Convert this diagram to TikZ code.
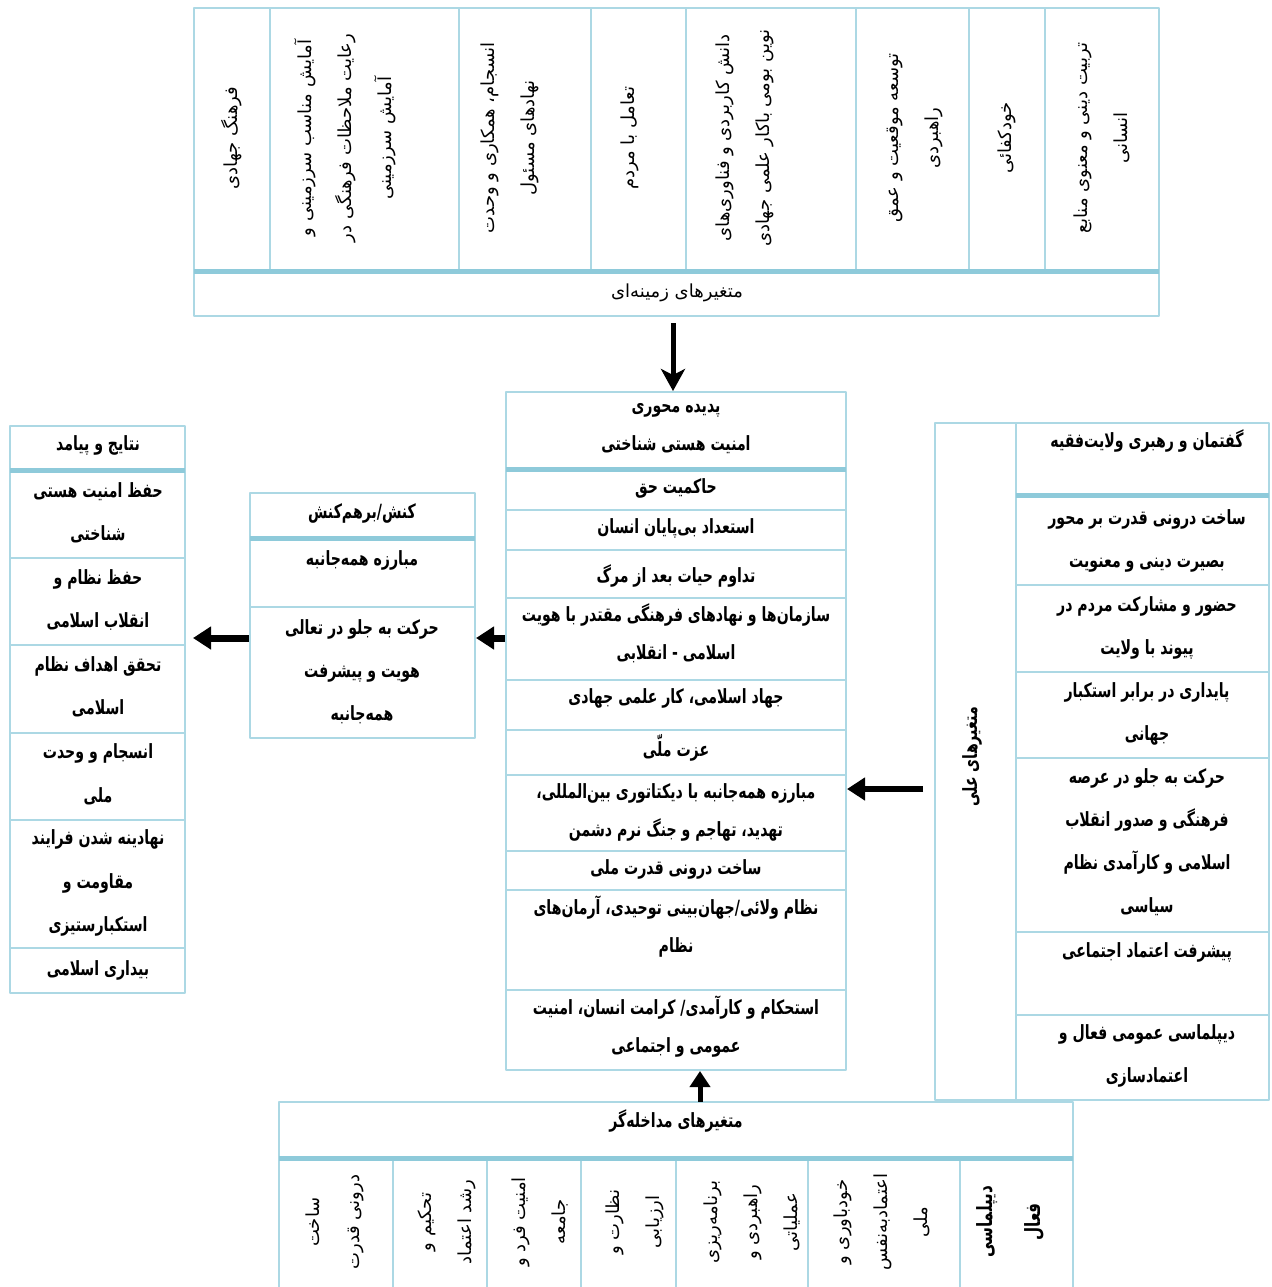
\documentclass[tikz,border=0pt]{standalone}
\usepackage{fontspec}
\newfontfamily\farsi[Script=Arabic]{DejaVu Sans}
\newfontfamily\farsib[Script=Arabic,FakeStretch=0.72]{DejaVu Sans}
\TeXXeTstate=1
\usetikzlibrary{arrows.meta,fit}
\definecolor{boxblue}{RGB}{172,216,228}
\definecolor{bandblue}{RGB}{142,202,218}
\newcommand\fa[1]{\beginR#1\endR}
\begin{document}
\begin{tikzpicture}[x=0.5pt,y=-0.5pt,line join=round,>=Stealth]
			\tikzset{frame/.style={draw=boxblue,line width=1pt,inner sep=0pt},
				band/.style={draw=bandblue,line width=2.5pt},
				cell/.style={font=\farsib\bfseries\fontsize{9.8}{#1}\selectfont,align=center,inner sep=0pt},
				cell/.default=19pt,
				vcell/.style={font=\farsi\fontsize{9}{20pt}\selectfont,align=center,inner sep=0pt,rotate=90},
				bigarrow/.style={line width=2.5pt,-{Stealth[length=11pt,width=12pt,inset=3pt]}},
				sidearrow/.style={line width=3.5pt,-{Triangle[length=9pt,width=11pt]}}}
			\useasboundingbox (0,0) rectangle (1271,1287);
			% متغیرهای زمینه‌ای
			\node[frame,fit={(194,8) (1159,316)}] (zamine) {};
			\foreach \x in {270,459,591,686,856,969,1045} \draw[frame] (\x,8)--(\x,271);
			\draw[band] (194,271)--(1159,271);
			\node[font=\farsi\fontsize{9}{20pt}\selectfont,inner sep=0pt] (zamine-t) at (677,293) {\fa{متغیرهای زمینه^^^^200cای}};
			\foreach \x/\t [count=\i] in {232/{\fa{فرهنگ جهادی}},
				345/{\fa{آمایش مناسب سرزمینی و}\\\fa{رعایت ملاحظات فرهنگی در}\\\fa{آمایش سرزمینی}},
				510/{\fa{انسجام، همکاری و وحدت}\\\fa{نهادهای مسئول}},
				630/{\fa{تعامل با مردم}},
				745/{\fa{دانش کاربردی و فناوری^^^^200cهای}\\\fa{نوین بومی باکار علمی جهادی}},
				915/{\fa{توسعه موقعیت و عمق}\\\fa{راهبردی}},
				1007/{\fa{خودکفائی}},
				1102/{\fa{تربیت دینی و معنوی منابع}\\\fa{انسانی}}}
				\node[vcell] (z\i) at (\x,138) {\t};
			% پدیده محوری
			\node[frame,fit={(506,392) (846,1070)}] (mehvar) {};
			\foreach \y in {510,550,598,680,730,775,851,890,990} \draw[frame] (506,\y)--(846,\y);
			\draw[band] (506,469)--(846,469);
			\foreach \y/\t [count=\i] in {428.5/{\fa{پدیده محوری}\\\fa{امنیت هستی شناختی}},
				488/{\fa{حاکمیت حق}},
				528/{\fa{استعداد بی^^^^200cپایان انسان}},
				576/{\fa{تداوم حیات بعد از مرگ}},
				633/{\fa{سازمان^^^^200cها و نهادهای فرهنگی مقتدر با هویت}\\\fa{اسلامی - انقلابی}},
				698/{\fa{جهاد اسلامی، کار علمی جهادی}},
				748/{\fa{عزت ملّی}},
				812/{\fa{مبارزه همه^^^^200cجانبه با دیکتاتوری بین^^^^200cالمللی،}\\\fa{تهدید، تهاجم و جنگ نرم دشمن}},
				869/{\fa{ساخت درونی قدرت ملی}},
				927/{\fa{نظام ولائی/جهان^^^^200cبینی توحیدی، آرمان^^^^200cهای}\\\fa{نظام}},
				1026.5/{\fa{استحکام و کارآمدی/ کرامت انسان، امنیت}\\\fa{عمومی و اجتماعی}}}
				\node[cell] (m\i) at (676,\y) {\t};
			% متغیرهای علی
			\node[frame,fit={(935,423) (1269,1100)}] (ellat) {};
			\draw[frame] (1016,423)--(1016,1100);
			\foreach \y in {585,672,758,932,1015} \draw[frame] (1016,\y)--(1269,\y);
			\draw[band] (1016,495)--(1269,495);
			\node[cell,rotate=90] (ellat-t) at (972,757) {\fa{متغیرهای علی}};
			\foreach \y/\t [count=\i] in {441/{\fa{گفتمان و رهبری ولایت^^^^200cفقیه}},
				540.5/{\fa{ساخت درونی قدرت بر محور}\\\fa{بصیرت دینی و معنویت}},
				627.5/{\fa{حضور و مشارکت مردم در}\\\fa{پیوند با ولایت}},
				714/{\fa{پایداری در برابر استکبار}\\\fa{جهانی}},
				842.5/{\fa{حرکت به جلو در عرصه}\\\fa{فرهنگی و صدور انقلاب}\\\fa{اسلامی و کارآمدی نظام}\\\fa{سیاسی}},
				952/{\fa{پیشرفت اعتماد اجتماعی}},
				1055.5/{\fa{دیپلماسی عمومی فعال و}\\\fa{اعتمادسازی}}}
				\node[cell=21.5pt] (e\i) at (1147,\y) {\t};
			% کنش/برهم‌کنش
			\node[frame,fit={(250,493) (475,738)}] (kansh) {};
			\draw[band] (250,538)--(475,538);
			\draw[frame] (250,607)--(475,607);
			\foreach \y/\t [count=\i] in {513/{\fa{کنش/برهم^^^^200cکنش}},
				560/{\fa{مبارزه همه^^^^200cجانبه}},
				671.5/{\fa{حرکت به جلو در تعالی}\\\fa{هویت و پیشرفت}\\\fa{همه^^^^200cجانبه}}}
				\node[cell=21.5pt] (k\i) at (362,\y) {\t};
			% نتایج و پیامد
			\node[frame,fit={(10,426) (185,993)}] (natayej) {};
			\foreach \y in {558,645,733,820,948} \draw[frame] (10,\y)--(185,\y);
			\draw[band] (10,470)--(185,470);
			\foreach \y/\t [count=\i] in {445/{\fa{نتایج و پیامد}},
				513/{\fa{حفظ امنیت هستی}\\\fa{شناختی}},
				600/{\fa{حفظ نظام و}\\\fa{انقلاب اسلامی}},
				687/{\fa{تحقق اهداف نظام}\\\fa{اسلامی}},
				774.5/{\fa{انسجام و وحدت}\\\fa{ملی}},
				883/{\fa{نهادینه شدن فرایند}\\\fa{مقاومت و}\\\fa{استکبارستیزی}},
				970/{\fa{بیداری اسلامی}}}
				\node[cell=21.75pt] (n\i) at (98,\y) {\t};
			% متغیرهای مداخله‌گر
			\node[fit={(279,1102) (1073,1287)},inner sep=0pt] (modakhele) {};
			\draw[frame] (279,1287)|-(1073,1102)--(1073,1287);
			\foreach \x in {393,487,581,676,808,960} \draw[frame] (\x,1158)--(\x,1287);
			\draw[band] (279,1158)--(1073,1158);
			\node[cell] (modakhele-t) at (676,1121) {\fa{متغیرهای مداخله^^^^200cگر}};
			\foreach \x/\t [count=\i] in {335/{\fa{ساخت}\\\fa{درونی قدرت}},
				447/{\fa{تحکیم و}\\\fa{رشد اعتماد}},
				540/{\fa{امنیت فرد و}\\\fa{جامعه}},
				635/{\fa{نظارت و}\\\fa{ارزیابی}},
				752/{\fa{برنامه^^^^200cریزی}\\\fa{راهبردی و}\\\fa{عملیاتی}},
				882/{\fa{خودباوری و}\\\fa{اعتمادبه^^^^200cنفس}\\\fa{ملی}}}
				\node[vcell] (d\i) at (\x,1222) {\t};
			\node[vcell,font=\farsib\bfseries\fontsize{10.5}{24pt}\selectfont] (d7) at (1010,1222) {\fa{دیپلماسی}\\\fa{فعال}};
			% arrows
			\coordinate (lvl-t) at (673,0);
			\coordinate (lvl-b) at (700,0);
			\coordinate (lvl-l) at (0,638);
			\coordinate (lvl-r) at (0,789);
			\draw[bigarrow,shorten <=3pt] (zamine.south -| lvl-t)--(mehvar.north -| lvl-t);
			\draw[sidearrow,line width=3pt,shorten <=5.5pt] (ellat.west |- lvl-r)--(mehvar.east |- lvl-r);
			\draw[sidearrow] (mehvar.west |- lvl-l)--(kansh.east |- lvl-l);
			\draw[sidearrow,shorten >=3.5pt] (kansh.west |- lvl-l)--(natayej.east |- lvl-l);
			\draw[bigarrow,-{Triangle[length=8pt,width=10pt]}] (modakhele.north -| lvl-b)--(mehvar.south -| lvl-b);
		\end{tikzpicture}
\end{document}
